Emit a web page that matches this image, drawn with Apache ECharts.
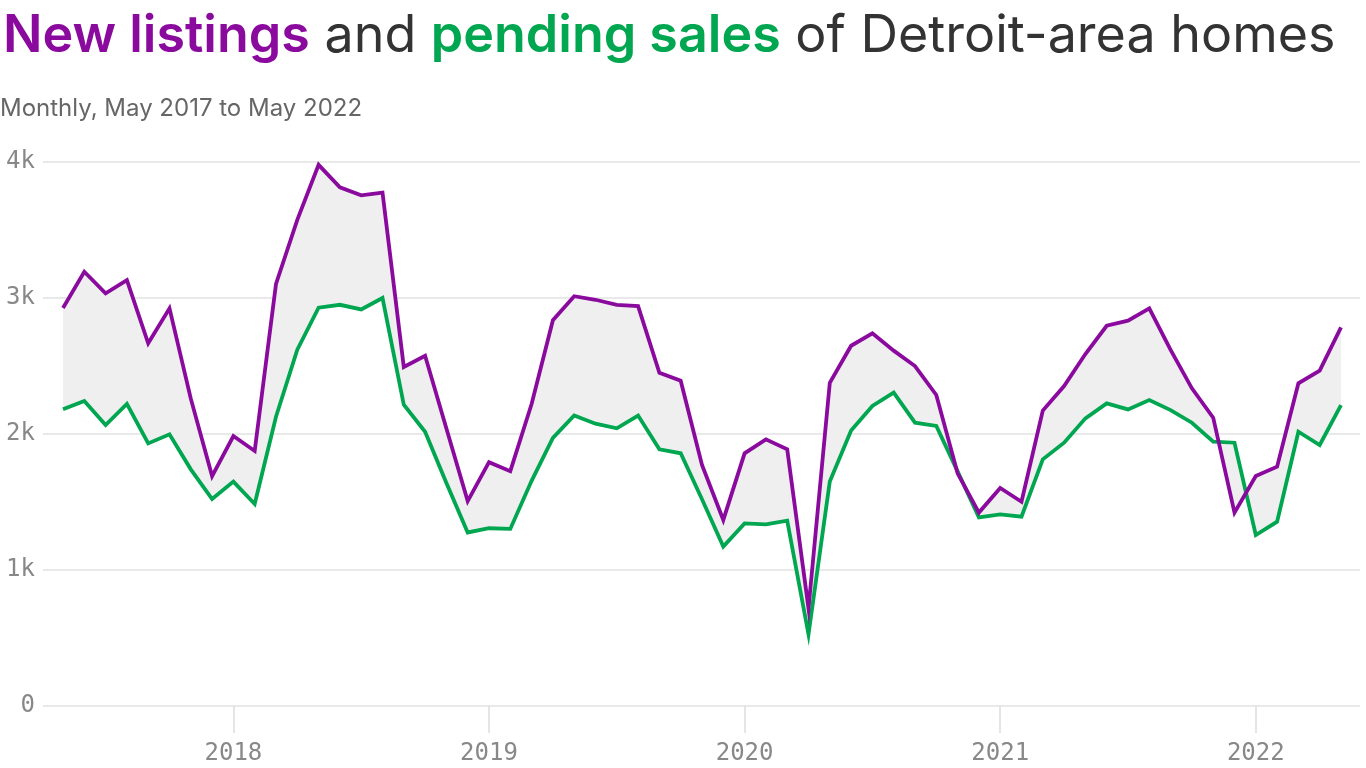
<!DOCTYPE html>
<html>
<head>
<meta charset="utf-8">
<script src="https://cdn.jsdelivr.net/npm/echarts@6/dist/echarts.min.js"></script>
<style>
  html, body { margin: 0; padding: 0; background: #ffffff; }
  #chart { width: 1366px; height: 768px; }
</style>
</head>
<body>
<div id="chart"></div>
<script>
// Categories: monthly, May 2017 to May 2022
const months = [
  '2017-05','2017-06','2017-07','2017-08','2017-09','2017-10','2017-11','2017-12',
  '2018-01','2018-02','2018-03','2018-04','2018-05','2018-06','2018-07','2018-08','2018-09','2018-10','2018-11','2018-12',
  '2019-01','2019-02','2019-03','2019-04','2019-05','2019-06','2019-07','2019-08','2019-09','2019-10','2019-11','2019-12',
  '2020-01','2020-02','2020-03','2020-04','2020-05','2020-06','2020-07','2020-08','2020-09','2020-10','2020-11','2020-12',
  '2021-01','2021-02','2021-03','2021-04','2021-05','2021-06','2021-07','2021-08','2021-09','2021-10','2021-11','2021-12',
  '2022-01','2022-02','2022-03','2022-04','2022-05'
];

// New listings (purple)
const newListings = [
  2926, 3193, 3034, 3132, 2667, 2924, 2260, 1691,
  1985, 1875, 3103, 3574, 3979, 3814, 3755, 3775, 2493, 2575, 2040, 1507,
  1793, 1727, 2220, 2837, 3013, 2987, 2950, 2940, 2450, 2392, 1772, 1368,
  1858, 1961, 1887, 718, 2377, 2649, 2740, 2613, 2500, 2287, 1711, 1422,
  1603, 1502, 2172, 2353, 2588, 2796, 2833, 2924, 2618, 2336, 2120, 1422,
  1691, 1760, 2373, 2466, 2784
];

// Pending sales (green)
const pendingSales = [
  2182, 2243, 2066, 2221, 1931, 1998, 1740, 1522,
  1650, 1485, 2127, 2620, 2929, 2950, 2916, 3000, 2215, 2016, 1640, 1276,
  1307, 1302, 1656, 1971, 2136, 2076, 2042, 2136, 1887, 1858, 1520, 1172,
  1343, 1336, 1363, 527, 1650, 2025, 2206, 2304, 2083, 2059, 1725, 1387,
  1409, 1392, 1814, 1936, 2115, 2225, 2181, 2250, 2176, 2083, 1944, 1936,
  1257, 1355, 2017, 1919, 2213
];

// Tick labels
const yTickLabels = ['0', '1k', '2k', '3k', '4k'];
const yearLabels = ['2018', '2019', '2020', '2021', '2022'];

const PURPLE = '#8a0a9e';
const GREEN = '#00a650';
const MONO = '"DejaVu Sans Mono", "Liberation Mono", monospace';
const SANS = 'Inter, Roboto, "Noto Sans", sans-serif';

const isJan = (idx) => months[idx].slice(5) === '01';

const chart = echarts.init(document.getElementById('chart'), null, { renderer: 'canvas' });

const option = {
  animation: false,
  backgroundColor: '#ffffff',
  title: [
    {
      left: 3,
      top: 10,
      padding: 0,
      text: '{p|New listings}{d| and }{g|pending sales}{d| of Detroit-area homes}',
      textStyle: {
        rich: {
          p: { fontFamily: SANS, fontSize: 52, fontWeight: 600, color: PURPLE },
          g: { fontFamily: SANS, fontSize: 52, fontWeight: 600, color: GREEN },
          d: { fontFamily: SANS, fontSize: 52, fontWeight: 'normal', color: '#333333' }
        }
      }
    },
    {
      left: 0,
      top: 97,
      padding: 0,
      text: 'Monthly, May 2017 to May 2022',
      textStyle: { fontFamily: SANS, fontSize: 24, fontWeight: 'normal', color: '#666666' }
    }
  ],
  grid: [
    { left: 43, right: 6, top: 162, bottom: 62 },
    { left: 63, right: 25, top: 162, bottom: 62 }
  ],
  xAxis: [
    {
      gridIndex: 0, type: 'value', min: 0, max: 1, show: false
    },
    {
      gridIndex: 1,
      type: 'category',
      data: months,
      boundaryGap: false,
      axisLine: { show: false },
      axisTick: {
        show: true,
        length: 27,
        interval: (idx) => isJan(idx),
        lineStyle: { color: '#dddddd', width: 1.5 }
      },
      axisLabel: {
        interval: (idx) => isJan(idx),
        formatter: (val) => {
          const y = val.slice(0, 4);
          return yearLabels.indexOf(y) >= 0 ? y : '';
        },
        margin: 36,
        color: '#888888',
        fontFamily: MONO,
        fontSize: 24
      },
      splitLine: { show: false }
    }
  ],
  yAxis: [
    {
      gridIndex: 0,
      type: 'value',
      min: 0,
      max: 4000,
      interval: 1000,
      axisLine: { show: false },
      axisTick: { show: false },
      axisLabel: {
        margin: 8,
        color: '#888888',
        fontFamily: MONO,
        fontSize: 24,
        formatter: (v) => yTickLabels[Math.round(v / 1000)]
      },
      splitLine: { show: true, lineStyle: { color: '#e2e2e2', width: 1.5 } }
    },
    {
      gridIndex: 1,
      type: 'value',
      min: 0,
      max: 4000,
      interval: 1000,
      show: false,
      splitLine: { show: false }
    }
  ],
  series: [
    {
      type: 'custom',
      xAxisIndex: 1,
      yAxisIndex: 1,
      silent: true,
      z: 1,
      data: [[0]],
      renderItem: (params, api) => {
        const pts = [];
        for (let i = 0; i < months.length; i++) pts.push(api.coord([i, newListings[i]]));
        for (let i = months.length - 1; i >= 0; i--) pts.push(api.coord([i, pendingSales[i]]));
        return {
          type: 'polygon',
          shape: { points: pts },
          style: { fill: '#efefef', stroke: null }
        };
      }
    },
    {
      name: 'Pending sales',
      type: 'line',
      xAxisIndex: 1,
      yAxisIndex: 1,
      data: pendingSales,
      symbol: 'none',
      z: 3,
      lineStyle: { color: GREEN, width: 3.8, join: 'miter' }
    },
    {
      name: 'New listings',
      type: 'line',
      xAxisIndex: 1,
      yAxisIndex: 1,
      data: newListings,
      symbol: 'none',
      z: 4,
      lineStyle: { color: PURPLE, width: 3.8, join: 'miter' }
    }
  ]
};

chart.setOption(option);
</script>
</body>
</html>
